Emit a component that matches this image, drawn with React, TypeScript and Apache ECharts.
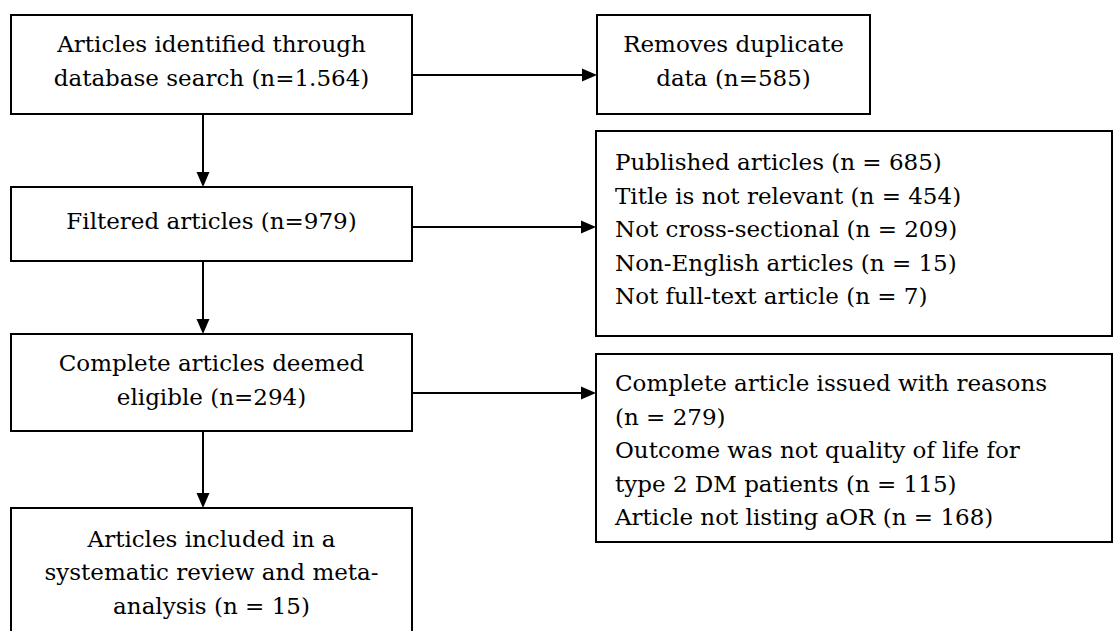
import React, { useEffect, useRef } from "react";
import * as echarts from "echarts";

// Node texts (flow diagram content)
const mainSteps = [
  "Articles identified through\ndatabase search (n=1.564)",
  "Filtered articles (n=979)",
  "Complete articles deemed\neligible (n=294)",
  "Articles included in a\nsystematic review and meta-\nanalysis (n = 15)",
];
const sideSteps = [
  "Removes duplicate\ndata (n=585)",
  "Published articles (n = 685)\nTitle is not relevant (n = 454)\nNot cross-sectional (n = 209)\nNon-English articles (n = 15)\nNot full-text article (n = 7)",
  "Complete article issued with reasons\n(n = 279)\nOutcome was not quality of life for\ntype 2 DM patients (n = 115)\nArticle not listing aOR (n = 168)",
];

const FONT_FAMILY = "'DejaVu Serif', serif";
const FONT_SIZE = 23;
const LINE_H = 33.5;
const STROKE = "#000";
const LW = 2;

// Layout (pixels)
const mainBoxes = [
  { x: 11, y: 15, w: 401, h: 99 },
  { x: 11, y: 187, w: 401, h: 74 },
  { x: 11, y: 334, w: 401, h: 97 },
  { x: 11, y: 508, w: 401, h: 140 },
];
const mainTextCy = [61, 221, 380, 572];
const sideBoxes = [
  { x: 597, y: 15, w: 273, h: 99, align: "center" },
  { x: 596, y: 131, w: 516, h: 205, align: "left" },
  { x: 596, y: 354, w: 516, h: 188, align: "left" },
];
const sideTextTop = [44, 162, 383];
const sideArrowY = [75, 227, 393];

function App() {
  const ref = useRef<HTMLDivElement>(null);
  useEffect(() => {
    if (!ref.current) return;
    const chart = echarts.init(ref.current, undefined, { renderer: "svg" });
    const els: any[] = [];
    const font = `${FONT_SIZE}px ${FONT_FAMILY}`;
    const rect = (b: any) => ({
      type: "rect",
      shape: { x: b.x, y: b.y, width: b.w, height: b.h },
      style: { fill: "#fff", stroke: STROKE, lineWidth: LW },
      z: 1,
    });
    mainBoxes.forEach((b, i) => {
      els.push(rect(b));
      els.push({
        type: "text",
        x: b.x + b.w / 2,
        y: mainTextCy[i],
        z: 3,
        style: {
          text: mainSteps[i],
          font,
          fill: "#000",
          align: "center",
          verticalAlign: "middle",
          lineHeight: LINE_H,
        },
      });
    });
    sideBoxes.forEach((b, i) => {
      els.push(rect(b));
      els.push({
        type: "text",
        x: b.align === "center" ? b.x + b.w / 2 : 615,
        y: sideTextTop[i] - LINE_H / 2,
        z: 3,
        style: {
          text: sideSteps[i],
          font,
          fill: "#000",
          align: b.align,
          verticalAlign: "top",
          lineHeight: LINE_H,
        },
      });
      // horizontal arrow
      const x1 = 412;
      const x2 = b.x;
      const y = sideArrowY[i];
      els.push({
        type: "line",
        shape: { x1, y1: y, x2: x2 - 14, y2: y },
        style: { stroke: STROKE, lineWidth: LW },
        z: 2,
      });
      els.push({
        type: "polygon",
        shape: { points: [[x2 - 15, y - 6.5], [x2, y], [x2 - 15, y + 6.5]] },
        style: { fill: STROKE },
        z: 2,
      });
    });
    // vertical arrows
    const cx = 203;
    for (let i = 0; i < mainBoxes.length - 1; i++) {
      const y1 = mainBoxes[i].y + mainBoxes[i].h;
      const y2 = mainBoxes[i + 1].y;
      els.push({
        type: "line",
        shape: { x1: cx, y1, x2: cx, y2: y2 - 14 },
        style: { stroke: STROKE, lineWidth: LW },
        z: 2,
      });
      els.push({
        type: "polygon",
        shape: { points: [[cx - 6.5, y2 - 15], [cx, y2], [cx + 6.5, y2 - 15]] },
        style: { fill: STROKE },
        z: 2,
      });
    }
    chart.setOption({
      animation: false,
      backgroundColor: "#fff",
      graphic: { elements: els },
    });
    return () => chart.dispose();
  }, []);
  return (
    <div
      ref={ref}
      style={{ position: "fixed", left: 0, top: 0, width: 1115, height: 631, background: "#fff" }}
    />
  );
}

export default App;
